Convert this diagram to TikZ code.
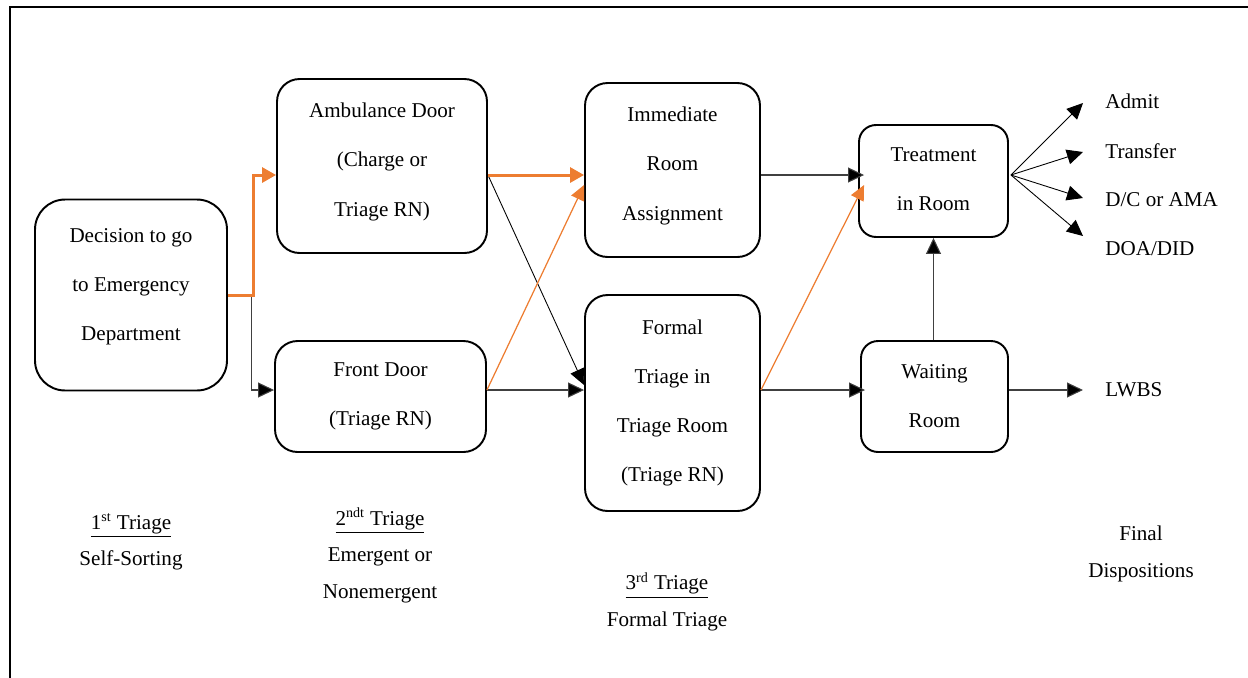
\documentclass[tikz,border=0pt]{standalone}
\usepackage{fontspec}
\setmainfont{Liberation Serif}
\usetikzlibrary{arrows.meta,calc}
\definecolor{edorange}{HTML}{ED7D31}

\begin{document}
\begin{tikzpicture}[x=0.02cm,y=-0.02cm,
		stage/.style={draw,line width=1.1pt,rounded corners=0.45cm,align=center,inner sep=0pt,
			font=\fontsize{12}{27.9}\selectfont},
		conn/.style={draw=black!75,line width=0.6pt,-{Triangle[length=0.32cm,width=0.3cm,fill=black]}},
		orthick/.style={draw=edorange,line width=1.7pt,-{Triangle[length=0.28cm,width=0.3cm]}},
		orthin/.style={draw=edorange,line width=0.7pt,-{Triangle[length=0.3cm,width=0.28cm]}},
		outcome/.style={anchor=west,inner sep=0pt,font=\fontsize{12}{14}\selectfont},
		phase/.style={align=center,inner sep=0pt,font=\fontsize{12}{21}\selectfont}]
		\useasboundingbox (0,0) rectangle (1248,677);
		\draw[line width=1.1pt] (10,700) -- (10,7) -- (1270,7);
		% boxes
		\node[stage,minimum width=3.84cm,minimum height=3.82cm,rounded corners=0.6cm,text depth=11.7pt] (dec) at (131,295) {Decision to go\\to Emergency\\Department};
		\node[stage,minimum width=4.2cm,minimum height=3.48cm,text depth=7.2pt] (amb) at (382,166) {Ambulance Door\\(Charge or\\Triage RN)};
		\node[stage,minimum width=4.22cm,minimum height=2.22cm] (front) at (380.5,396.5) {Front Door\\(Triage RN)};
		\node[stage,minimum width=3.5cm,minimum height=3.48cm,text depth=7.2pt] (imm) at (672.5,170) {Immediate\\Room\\Assignment};
		\node[stage,minimum width=3.5cm,minimum height=4.32cm] (formal) at (672.5,403) {Formal\\Triage in\\Triage Room\\(Triage RN)};
		\node[stage,minimum width=2.98cm,minimum height=2.24cm,rounded corners=0.34cm,text depth=2.3pt] (trt) at (933.5,181) {Treatment\\in Room};
		\node[stage,minimum width=2.94cm,minimum height=2.22cm,rounded corners=0.34cm] (wait) at (934.5,396.5) {Waiting\\Room};
		% final dispositions
		\node[outcome] (admit) at (1105,101) {Admit};
		\node[outcome] (transfer) at (1105,151) {Transfer};
		\node[outcome] (dcama) at (1105,200) {D/C or AMA};
		\node[outcome] (doa) at (1105,249) {DOA/DID};
		\node[outcome] (lwbs) at (1105,390) {LWBS};
		% phases
		\node[phase] (first) at (131,542) {\underline{1\textsuperscript{st} Triage}\\Self-Sorting};
		\node[phase] (second) at (380,555.5) {\underline{2\textsuperscript{ndt} Triage}\\Emergent or\\Nonemergent};
		\node[phase] (third) at (667,602) {\underline{3\textsuperscript{rd} Triage}\\Formal Triage};
		\node[phase] (final) at (1141,554) {Final\\Dispositions};
		% connectors
		\draw[conn] (dec.east) -- ++(24,0) |- ($(front.west)+(0,-6.5)$);
		\draw[orthick] (dec.east) -- ++(26,0) |- ($(amb.west)+(0,9)$);
		\draw[conn,draw=black,line width=0.5pt] ($(amb.east)+(0,9)$) -- ($(formal.west)+(0,-18)$);
		\draw[conn] ($(front.east)+(0,-6.5)$) -- ($(formal.west)+(0,-13)$);
		\draw[orthin] ($(front.east)+(0,-6.5)$) -- ($(imm.west)+(0,15)$);
		\draw[orthick] ($(amb.east)+(0,9)$) -- ($(imm.west)+(0,5)$);
		\draw[conn] ($(imm.east)+(0,5)$) -- ($(trt.west)+(6,-6)$);
		\draw[conn] ($(formal.east)+(0,-13)$) -- ($(wait.west)+(5,-6.5)$);
		\draw[orthin] ($(formal.east)+(0,-13)$) -- ($(trt.west)+(6,4)$);
		\draw[conn] (wait.north -| trt.south) -- (trt.south);
		\draw[conn] ($(wait.east)+(0,-6.5)$) -- ($(lwbs.west)+(-22,0)$);
		\foreach \dest/\dy in {admit/2,transfer/1,dcama/-2,doa/-13}
			\draw[conn,draw=black,line width=0.5pt] ($(trt.east)+(2,-6)$) -- ($(\dest.west)+(-22,\dy)$);
\end{tikzpicture}
\end{document}
